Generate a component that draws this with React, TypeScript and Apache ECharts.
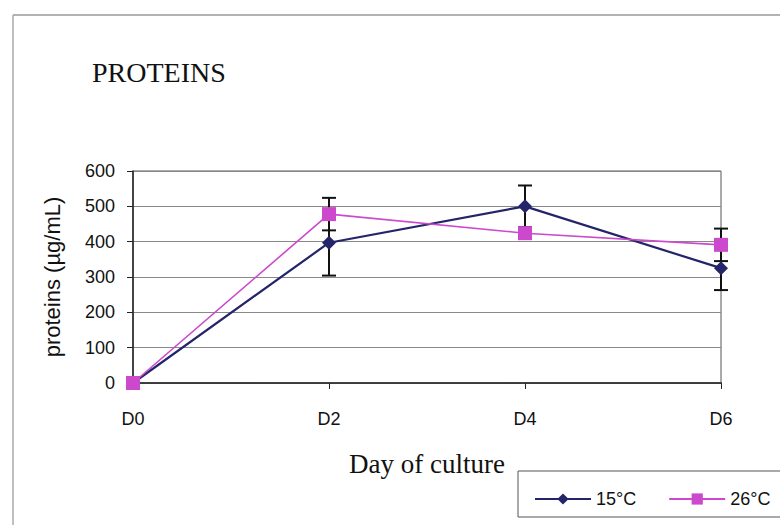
import React, { useEffect, useRef } from "react";
import * as echarts from "echarts";

const categories = ["D0", "D2", "D4", "D6"];
const series15Name = "15°C";
const series26Name = "26°C";
const values15 = [0, 397, 500, 325];
const errors15 = [0, 93, 59, 62];
const values26 = [0, 478, 424, 391];
const errors26 = [0, 46, 15, 46];
const yTicks = { min: 0, max: 600, interval: 100 };

const NAVY = "#24246A";
const PINK = "#CC48CC";

function errorData(vals: number[], errs: number[]) {
  return vals.map((v, i) => [i, v - errs[i], v + errs[i]]);
}

function renderErr(params: any, api: any) {
  const i = api.value(0);
  const lo = api.coord([i, api.value(1)]);
  const hi = api.coord([i, api.value(2)]);
  const cap = 7;
  const style = { stroke: "#111", lineWidth: 2 };
  return {
    type: "group",
    children: [
      { type: "line", shape: { x1: lo[0], y1: lo[1], x2: hi[0], y2: hi[1] }, style },
      { type: "line", shape: { x1: lo[0] - cap, y1: lo[1], x2: lo[0] + cap, y2: lo[1] }, style },
      { type: "line", shape: { x1: hi[0] - cap, y1: hi[1], x2: hi[0] + cap, y2: hi[1] }, style },
    ],
  };
}

export default function App() {
  const ref = useRef<HTMLDivElement>(null);
  useEffect(() => {
    if (!ref.current) return;
    const chart = echarts.init(ref.current, undefined, { renderer: "svg" });
    chart.setOption({
      animation: false,
      backgroundColor: "#fff",
      title: {
        text: "PROTEINS",
        left: 92,
        top: 58,
        padding: 0,
        textStyle: { fontFamily: "Liberation Serif", fontSize: 28, fontWeight: "normal", color: "#111" },
      },
      graphic: [
        { type: "line", shape: { x1: 13, y1: 15, x2: 780, y2: 15 }, style: { stroke: "#999", lineWidth: 1.5 } },
        { type: "line", shape: { x1: 13, y1: 15, x2: 13, y2: 525 }, style: { stroke: "#aaa", lineWidth: 1.5 } },
        {
          type: "rect",
          shape: { x: 518, y: 471, width: 300, height: 46 },
          style: { fill: "#fff", stroke: "#555", lineWidth: 1 },
          z: 0,
        },
      ],
      grid: {
        left: 133,
        top: 171,
        right: 59,
        bottom: 142,
        show: true,
        borderColor: "#555",
        borderWidth: 1,
      },
      legend: {
        left: 534,
        top: 490,
        padding: 0,
        itemWidth: 56,
        itemHeight: 14,
        itemGap: 32,
        textStyle: { fontFamily: "Liberation Sans", fontSize: 18, color: "#111" },
        data: [series15Name, series26Name],
        z: 5,
      },
      xAxis: {
        type: "category",
        data: categories,
        boundaryGap: false,
        name: "Day of culture",
        nameLocation: "middle",
        nameGap: 81,
        nameTextStyle: { fontFamily: "Liberation Serif", fontSize: 27, color: "#111", verticalAlign: "middle" },
        axisLine: { lineStyle: { color: "#222", width: 1.5 } },
        axisTick: { show: true, alignWithLabel: true, length: 6, lineStyle: { color: "#222" } },
        axisLabel: { margin: 27, fontFamily: "Liberation Sans", fontSize: 18, color: "#111" },
        splitLine: { show: false },
      },
      yAxis: {
        type: "value",
        min: yTicks.min,
        max: yTicks.max,
        interval: yTicks.interval,
        name: "proteins (µg/mL)",
        nameLocation: "middle",
        nameGap: 81,
        nameTextStyle: { fontFamily: "Liberation Sans", fontSize: 22, color: "#111", verticalAlign: "middle", align: "center" },
        axisLine: { show: true, lineStyle: { color: "#222", width: 1.5 } },
        axisTick: { show: true, length: 6, lineStyle: { color: "#222" } },
        axisLabel: { margin: 18, fontFamily: "Liberation Sans", fontSize: 18, color: "#111" },
        splitLine: { show: true, lineStyle: { color: "#888", width: 1 } },
      },
      series: [
        {
          type: "custom",
          name: "err15",
          renderItem: renderErr,
          data: errorData(values15, errors15),
          z: 1,
          silent: true,
          encode: { x: 0, y: [1, 2] },
        },
        {
          type: "custom",
          name: "err26",
          renderItem: renderErr,
          data: errorData(values26, errors26),
          z: 1,
          silent: true,
          encode: { x: 0, y: [1, 2] },
        },
        {
          type: "line",
          name: series15Name,
          data: values15,
          symbol: "diamond",
          symbolSize: 14,
          lineStyle: { color: NAVY, width: 2.2 },
          itemStyle: { color: NAVY },
          z: 3,
        },
        {
          type: "line",
          name: series26Name,
          data: values26,
          symbol: "rect",
          symbolSize: 14,
          lineStyle: { color: PINK, width: 1.6 },
          itemStyle: { color: PINK },
          z: 4,
        },
      ],
    });
    return () => chart.dispose();
  }, []);
  return (
    <div
      ref={ref}
      style={{ position: "fixed", left: 0, top: 0, width: 780, height: 525 }}
    />
  );
}
